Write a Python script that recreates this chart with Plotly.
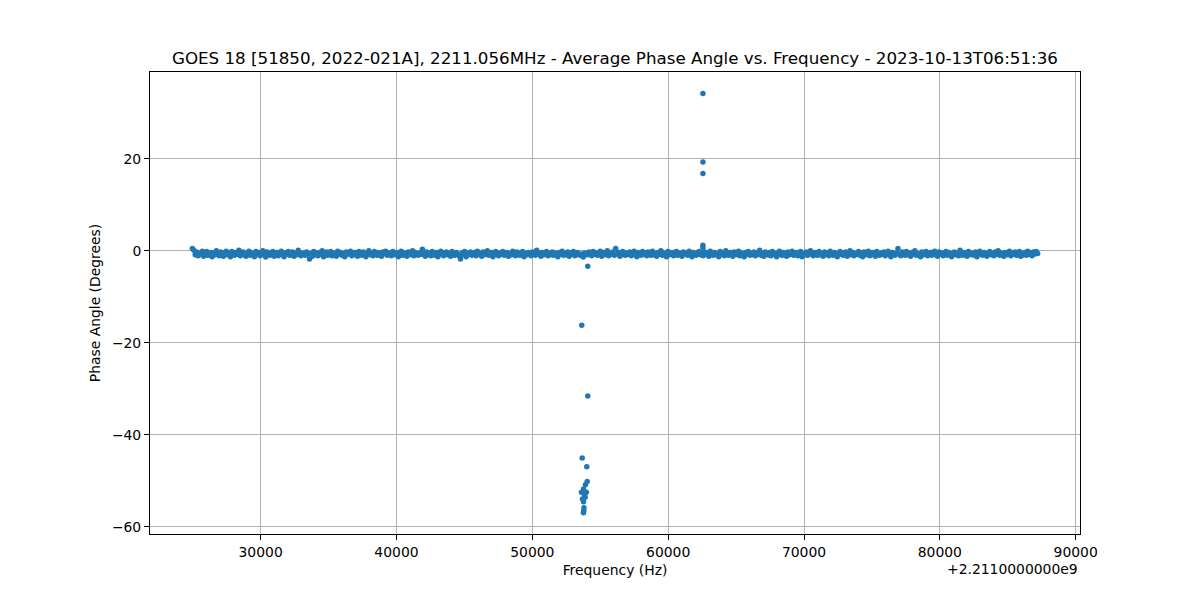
import plotly.graph_objects as go

# frequency offset used by the x axis (Hz)
freq_offset_label = "+2.2110000000e9"

# main band: evenly spaced FFT bins from start to end (Hz, relative to offset)
band_start = 24975
band_end = 87200
band_phase = [
    0.5, 0.1, -0.9, -0.3, -1.1, -0.5, -0.8, -0.1, -1.2, -0.6, -0.2, -1.0, -0.7, -0.4, -1.3, -0.5, -0.9, 0.0, -0.6, -1.1,
    -0.3, -0.8, -1.2, -0.4, -0.1, -0.9, -0.6, -1.3, -0.2, -0.7, -1.0, -0.4, -0.8, 0.1, -1.1, -0.5, -0.3, -0.9, -1.2, -0.6,
    -0.1, -1.0, -0.5, -0.8, -1.3, -0.2, -0.7, -0.4, -1.1, -0.6, 0.0, -0.9, -1.4, -0.3, -0.7, -1.0, -0.5, -0.2, -1.2, -0.8,
    -0.4, -1.1, -0.6, -0.1, -0.9, -1.3, -0.5, -0.8, -0.2, -1.0, -0.7, -0.3, -1.2, -0.6, -0.9, 0.1, -0.4, -1.1, -0.8, -0.5,
    -1.0, -0.3, -0.7, -1.8, -0.6, -1.2, -0.2, -0.9, -0.5, -1.1, -0.4, -0.8, 0.0, -1.3, -0.6, -0.3, -1.0, -0.7, -0.2, -1.1,
    -0.5, -0.9, -1.2, -0.1, -0.7, -0.4, -1.0, -0.6, -1.3, -0.3, -0.8, -0.5, -0.1, -1.1, -0.9, -0.4, -0.7, -1.2, -0.2, -0.6,
    -1.0, -0.3, -0.8, -1.3, -0.5, 0.0, -0.9, -0.6, -1.1, -0.2, -0.7, -1.0, -0.4, -0.8, -1.2, -0.3, -0.6, -0.1, -1.0, -0.5,
    -0.8, -1.1, -0.2, -0.6, -0.9, -0.4, -1.3, -0.7, -0.1, -1.0, -0.5, -0.8, -1.2, -0.3, -0.6, -0.9, 0.0, -1.1, -0.4, -0.7,
    -1.0, -0.5, -0.8, 0.3, -0.6, -1.2, -0.3, -0.9, -0.5, -1.1, -0.2, -0.7, -1.0, -0.4, -1.3, -0.6, -0.1, -0.8, -1.1, -0.5,
    -0.3, -0.9, -0.6, -1.2, -0.2, -0.8, -1.0, -0.4, -0.7, -1.1, -1.8, -0.5, -0.9, -0.2, -1.3, -0.6, -0.8, -0.3, -1.0, -0.7,
    -0.4, -1.1, -0.1, -0.8, -0.6, -1.2, -0.3, -0.9, -0.5, 0.0, -1.0, -0.7, -0.4, -1.3, -0.6, -0.2, -0.9, -1.1, -0.5, -0.8,
    -0.2, -1.0, -0.7, -0.4, -1.2, -0.6, -0.9, -0.1, -0.8, -1.1, -0.3, -0.7, -1.0, -0.5, -0.2, -1.3, -0.6, -0.9, -0.4, -0.8,
    -1.1, -0.3, -0.6, -1.0, 0.1, -0.8, -0.5, -1.2, -0.4, -0.9, -0.7, -0.2, -1.1, -0.6, -0.9, -0.3, -1.0, -0.5, -0.8, -1.3,
    -0.4, -0.7, -0.1, -1.0, -0.6, -0.9, -0.3, -1.2, -0.5, -0.8, -0.2, -1.1, -0.6, -0.4, -0.9, -1.0, -0.7, -1.4, -0.5, -0.8,
    -0.9, -0.3, -0.6, -1.1, -0.2, -0.8, -0.5, -1.0, -0.7, -0.1, -1.2, -0.4, -0.9, -0.6, 0.0, -1.1, -0.5, -0.8, -0.3, -1.0,
    0.5, -0.7, -0.4, -1.2, -0.6, -0.2, -0.9, -1.0, -0.5, -0.8, -0.3, -1.1, -0.7, -0.1, -0.9, -1.3, -0.4, -0.6, -1.0, -0.2,
    -0.8, -0.5, -1.1, -0.3, -0.7, -1.0, -0.1, -0.9, -0.6, -1.2, -0.4, -0.8, 0.0, -1.0, -0.5, -0.7, -1.3, -0.2, -0.9, -0.6,
    -0.4, -1.1, -0.8, -0.2, -1.0, -0.5, -0.9, -1.2, -0.3, -0.7, -0.6, -1.0, -0.1, -0.8, -1.3, -0.4, -0.7, -1.0, -0.5, -0.2,
    -0.9, -0.6, -1.1, -0.3, -0.8, -0.5, -1.2, -0.1, -0.7, -1.0, -0.4, -0.9, -0.6, -1.3, -0.2, -0.8, -0.5, -1.1, 0.0, -0.7,
    -1.0, -0.4, -0.8, -1.2, -0.3, -0.6, -0.9, -0.1, -1.1, -0.5, -0.8, -1.3, -0.4, -0.7, -0.2, -1.0, -0.6, -0.9, -0.3, -1.1,
    -0.5, -0.8, 0.1, -1.0, -0.6, -1.2, -0.3, -0.7, -0.9, -0.4, -1.1, -0.2, -0.8, -0.6, -1.3, -0.5, -0.1, -0.9, -1.0, -0.4,
    -0.7, -1.2, -0.3, -0.9, -0.5, -0.1, -1.0, -0.8, -0.4, -1.1, -0.6, -0.2, -1.3, -0.7, -0.9, -0.3, -1.0, -0.5, 0.0, -0.8,
    -1.1, -0.4, -0.7, -1.0, -0.2, -0.9, -0.6, -1.2, -0.3, -0.8, -0.5, -1.1, -0.1, -0.7, -1.0, -0.4, -0.9, -1.3, -0.6, -0.2,
    -0.8, -1.0, -0.5, -0.3, -1.2, -0.7, 0.0, -0.9, -0.4, -1.1, -0.6, -0.8, -0.2, -1.0, -0.5, -1.3, -0.3, -0.7, -0.9, -0.1,
    -1.1, -0.6, -0.4, -0.9, -1.2, -0.2, -0.7, -1.0, -0.5, -0.8, -0.3, -1.1, -0.6, -0.1, -0.9, -1.3, -0.4, -0.7, -1.0, -0.5,
    0.5, -0.8, -1.1, -0.3, -0.6, -1.0, -0.2, -0.9, -0.5, -1.2, -0.4, -0.7, 0.0, -1.0, -0.6, -0.8, -1.3, -0.3, -0.9, -0.5,
    -0.2, -1.1, -0.7, -0.4, -1.0, -0.6, -0.1, -0.9, -1.2, -0.3, -0.8, -0.5, -1.1, -0.7, -0.2, -1.0, -0.4, -0.8, -1.3, -0.6,
    -0.3, -0.9, -0.5, -1.1, 0.1, -0.7, -1.0, -0.4, -0.8, -1.2, -0.2, -0.6, -0.9, -0.5, -1.0, -0.3, -1.3, -0.7, -0.1, -0.8,
    -1.0, -0.4, -0.7, -1.2, -0.5, -0.2, -0.9, -0.6, -1.1, -0.3, -0.8, 0.0, -1.0, -0.5, -0.7, -1.2, -0.4, -0.9, -0.6, -0.1,
    -1.1, -0.5, -0.8, -0.3, -1.0, -0.7, -0.2, -1.2, -0.6, -0.9, -0.4, -1.0, -0.1, -0.8, -0.5, -1.1, -0.3, -0.7, -0.2, -0.6,
]

# outlier bins around 53.6-54.1 kHz and 62.56 kHz
spike_freq = [54080, 53640, 54080, 53670, 54010, 54040, 53910, 53770, 53620, 53980,
              53840, 53890, 53690, 53770, 53800, 53790, 53760, 62560, 62560, 62560, 62560, 62560]
spike_phase = [-3.4, -16.2, -31.6, -45.1, -47.0, -50.2, -50.9, -51.8, -52.5, -52.5,
               -53.1, -53.6, -54.0, -54.6, -55.9, -56.6, -57.0, 34.2, 19.3, 16.8, 1.2, 0.6]

x_ticks = [30000, 40000, 50000, 60000, 70000, 80000, 90000]
y_ticks = [-60, -40, -20, 0, 20]

n = len(band_phase)
band_freq = [band_start + (band_end - band_start) * i / (n - 1) for i in range(n)]

freqs = band_freq + spike_freq
phases = band_phase + spike_phase

fig = go.Figure()
fig.add_trace(go.Scatter(
    x=freqs, y=phases, mode="markers",
    marker=dict(color="#1f77b4", size=5.5, line=dict(width=0)),
    showlegend=False,
))

axis_style = dict(
    showgrid=True, gridcolor="#b0b0b0", gridwidth=1,
    showline=True, linecolor="black", linewidth=1, mirror=True,
    ticks="outside", ticklen=5, tickcolor="black", tickwidth=1,
    zeroline=False, tickfont=dict(size=13.9, color="black"),
)

# page body adds 8px, so margins are shifted to keep the axes box at 150..1080 x 72..534
fig.update_layout(
    width=1200, height=600,
    paper_bgcolor="white", plot_bgcolor="white",
    font=dict(family="DejaVu Sans", color="black"),
    margin=dict(l=142, r=128, t=64, b=74),
    title=dict(
        text="GOES 18 [51850, 2022-021A], 2211.056MHz - Average Phase Angle vs. Frequency - 2023-10-13T06:51:36",
        x=0.5058, xanchor="center", y=0.9167, yanchor="middle",
        font=dict(size=16.7),
    ),
    xaxis=dict(
        range=[21857, 90317], tickvals=x_ticks, tickformat="d",
        title=dict(text="Frequency (Hz)", font=dict(size=13.9), standoff=6),
        **axis_style,
    ),
    yaxis=dict(
        range=[-61.6, 38.85], tickvals=y_ticks,
        title=dict(text="Phase Angle (Degrees)", font=dict(size=13.9), standoff=8),
        **axis_style,
    ),
)

fig.add_annotation(
    text=freq_offset_label, xref="paper", yref="paper",
    x=1.0, y=-0.076, xanchor="right", yanchor="middle",
    showarrow=False, font=dict(size=13.9, color="black"),
)

fig.write_html("out.html")
